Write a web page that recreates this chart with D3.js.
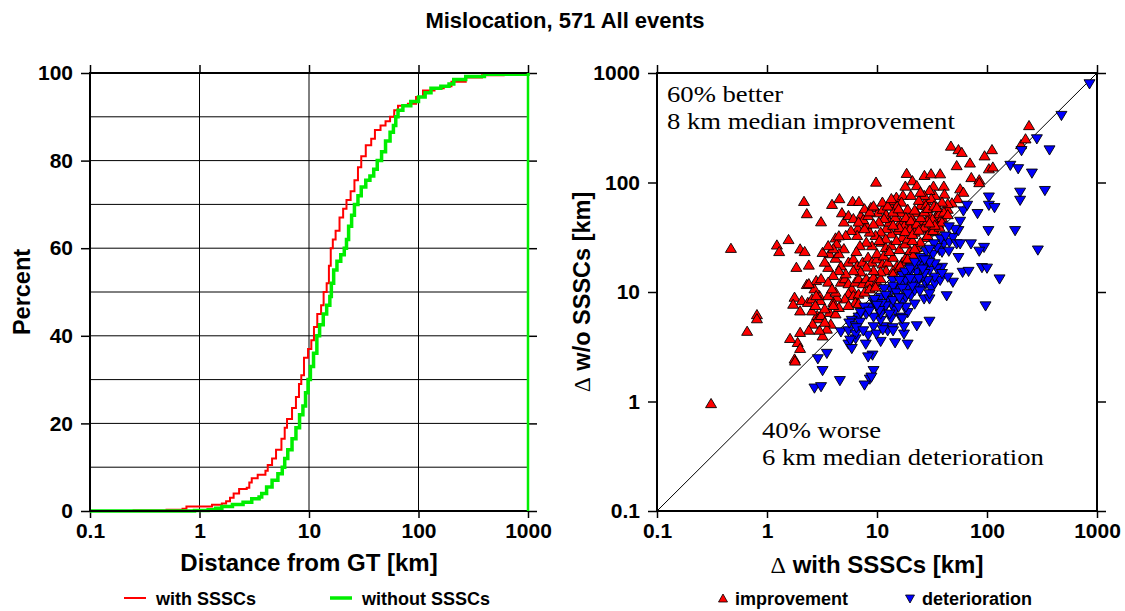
<!DOCTYPE html>
<html><head><meta charset="utf-8">
<script src="https://cdn.jsdelivr.net/npm/d3@7"></script>
<style>body{margin:0;background:#fff}svg{display:block}</style>
</head><body>
<svg id="c" width="1125" height="611"></svg>
<script>
// ---------- data ----------
const titleText = "Mislocation, 571 All events";
const logTicks = [0.1, 1, 10, 100, 1000];
const logTickLabels = ["0.1", "1", "10", "100", "1000"];
const pctTicks = [0, 20, 40, 60, 80, 100];
const pctGrid = [10, 20, 30, 40, 50, 60, 70, 80, 90];
const decadeGrid = [1, 10, 100];
const seriesNames = ["with SSSCs", "without SSSCs"];
const symbolNames = ["improvement", "deterioration"];
const noteBetter = ["60% better", "8 km median improvement"];
const noteWorse = ["40% worse", "6 km median deterioration"];

// cumulative distributions: [distance km, percent]
const cdfWith = [[0.1,0],[0.25,0.1],[0.5,0.3],[0.7,0.5],[0.76,1.0],[1.1,1.0],[1.3,1.4],[1.6,1.7],[1.75,2.2],[1.9,3.0],[2.05,4.0],[2.3,5.0],[2.7,5.3],[2.85,6.5],[3.0,7.5],[3.4,8.3],[4.0,9.2],[4.2,10.5],[4.6,12],[5.0,14],[5.6,16.5],[6.0,19],[6.3,21],[7.0,23.5],[7.6,26],[8.1,29],[8.5,31],[9.0,35],[9.8,37],[10.5,39],[11.1,42],[11.9,45],[12.9,47],[13.6,50],[14.5,52],[15.2,56],[15.8,60],[16.5,62],[17.5,64],[19,67],[20.5,69],[22,71],[24,73],[26,75.5],[28,78.5],[30,81],[33,83.5],[37,85],[40,87],[45,88],[50,89],[55,90],[60,91.5],[65,92.5],[80,93],[95,94.5],[110,96],[140,96.5],[170,97],[200,98],[270,99],[380,99.5],[600,99.8],[1000,100]];
const cdfWithout = [[0.1,0],[0.9,0.1],[1.2,0.3],[1.4,0.6],[1.6,1.0],[2.0,1.5],[2.5,2.0],[3.0,2.8],[3.5,3.2],[3.7,4.0],[4.1,5.5],[4.6,7.0],[5.2,8.5],[5.7,10],[6.0,12],[6.4,14],[7.0,16.5],[7.6,19],[8.2,22],[8.8,24],[9.3,27],[9.8,30],[10.3,33],[11.0,36],[11.8,40],[12.5,42.5],[13.5,45],[14.5,47],[15.5,49],[16,52],[16.8,55],[18,57],[19.5,58.5],[21,60],[22,62],[23,65],[24.5,67.5],[26,70],[28,72],[30,74],[33,75.5],[36,76.5],[39,78],[42,80],[46,82],[50,84.5],[55,86.5],[59,88],[62,90],[65,91.5],[72,92.5],[85,93.5],[100,94.5],[115,95.5],[130,96.5],[160,97],[190,97.5],[210,98.5],[270,99.2],[400,99.7],[1000,100]];

// scatter: [with SSSCs, w/o SSSCs] km
const improvement = [[0.31,0.94],[0.47,24.6],[0.66,4.3],[0.81,6.1],[0.81,5.6],[1.23,26.4],[1.29,23],[1.57,29.6],[2.0,24.3],[2.2,23],[2.17,66],[2.3,51],[3.1,43],[1.85,16.5],[2.4,17.3],[2.3,11.5],[2.8,12.5],[3.1,13],[1.78,8.8],[1.73,7.6],[2.07,8.2],[2.35,7.9],[2.0,6.6],[3.0,9.1],[3.05,8.2],[2.86,6.0],[2.9,5.6],[3.6,16.5],[3.7,22],[4.2,30.6],[4.3,27],[4.2,20],[3.9,62],[4.55,70],[4.8,52],[6.0,66],[6.85,66],[8.8,58],[7.1,49],[6.7,37.5],[8.0,40],[7.5,45],[9.8,99],[10.2,52],[11.3,56],[12.1,50],[13.3,60],[14.2,67],[15.0,72],[17.2,75],[18.1,91],[18.6,119],[21,102],[27,114],[31,118],[37.5,118],[32.6,91],[40.5,91],[41,77],[47,211],[55,196],[59,185],[53,140],[70,148],[72,109],[85,104],[85,98],[95,172],[111,196],[104,131],[113,136],[204,218],[224,246],[241,325],[57,86],[61,80],[54,70],[48,64],[44,56],[37,55],[35,49],[30,50],[28,67],[25,61],[23,52],[20,49],[19,56],[16.7,65],[15.2,60],[16.4,52],[18.7,41],[22,42],[26,42],[25,37],[31,37],[36,41],[39,47],[34,35],[28,31],
[4.7,12.1],[5.1,13],[5.5,11.7],[5.9,10.5],[6.35,12.1],[6.8,13],[7.4,11.7],[8.0,13],[8.6,12.1],[9.3,13.4],[10,12.1],[10.8,13],[5.5,9.5],[6.1,9.1],[6.8,9.4],[7.7,9.8],[5.1,8.5],[4.3,8.8],[4.0,7.9],[3.7,6.4],[4.2,6.2],[4.5,7.1],[3.8,5.0],[3.5,4.5],[3.2,3.9],[3.0,4.4],[2.6,5.0],[2.4,4.4],[2.0,4.2],[1.9,3.4],[1.62,3.7],[1.78,2.4],[1.8,2.3],[2.0,3.0],[2.56,8.5],[3.6,9.1],[4.0,7.4],[4.2,9.8],[4.7,17],[5.5,18.4],[6.1,19.7],[6.6,17],[7.4,18.4],[8.3,20.4],[9.0,18.4],[10,19.7],[11.2,17.7],[12.5,18.4],[14,20.4],[15.2,17],[17,18.4],[18.3,20.4],[12.1,15.4],[10.8,15],[9.3,15.4],[8,16.6],[7.1,15],[6.1,15.4],[5.2,14.4],[4.5,15.4],[4.0,13.9],[3.6,12.1],[3.9,10.5],[14,15.4],[15.7,16],[8.6,10.5],[9.7,10.9],[6.35,7.9],[5.5,7.4],[6.8,7.7],[2.56,6.6],[2.75,7.4],[3.1,6.0],[3.35,6.9],[3.35,5.2],[20,23.5],[21.3,21.2],[23,25],[17,31],[15.2,35.8],[13.5,33.4],[12.1,37.2],[10.8,34.6],[9.7,32.3],[8.6,34.6],[7.7,37.2],[6.6,32.3],[5.8,35.8],[5.2,32.3],[5.0,24.4],[4.5,22],[4.0,24.4],[16.3,42.8],[17.7,39.7],[20,37.2],[22,34.6],[18.3,47],[20.3,44],[23,41],[26.8,38.4],[28.8,44],[32,45.7],[37,51],[40.5,52.7],[44,63],[39,65],[33.5,75],[30,83],[31.1,70],[26.8,75],[24,67.5],[20.3,75],[23,92],[24.8,80],[27.8,60.5],[13,42.8],[11.6,46],[10.4,42.8],[9.3,41],[8.3,49],[14.6,47],[14,52.7],[15.7,56.5],[24.8,28],[28.8,32.3],[32.3,35.8],[37,38.4],[39,42.8],[33.5,40],[22,24.4],[19,19.7],[16.3,17],[14,14.4],[2.7,10.5],[2.8,9.1],[2.4,11.7],[3.35,18.4],[3.2,22.6],[3.6,26],[4.5,32],[5.0,42.8],[5.5,49],[6.1,46],[6.8,42.8],[7.7,56.5],[8.6,53],[9.3,60],[11.2,65],[12.5,60],[13.5,70],
[11,28],[12,25],[13.5,26],[15,29],[16,24],[18,27],[19,30],[21,29],[10,22],[11.5,21],[13,23],[9,26],[8,28],[7,26],[6.5,23],[16,38],[18,35],[21,33],[24,36],[14,40],[12,30],[10.5,29],[25,47],[22,55],[27,53],[29,57],[33,60],[35,58],[30,42],[44,50]];

const deterioration = [[855,811],[475,417],[284,255],[370,202],[206,199],[163,146],[192,136],[256,124],[336,86],[200,83],[200,70],[104,75],[104,63],[117,60],[82,53],[103,37],[180,37],[290,24.6],[71.5,28],[94,26],[85,24],[55,21],[60,15.4],[68,15.7],[90,17],[100,16.8],[130,13.4],[97,7.6],[49,12.5],[43,9.4],[30,5.5],[23,5.0],[19,3.4],[14.6,3.5],[17.6,4.2],[10.8,3.6],[12.5,4.5],[9.3,1.95],[8.6,1.63],[7.7,1.44],[9.1,2.7],[8.3,2.6],[7.9,3.4],[4.6,1.58],[2.7,1.35],[3.1,1.39],[3.2,1.95],[3.5,2.8],[2.9,2.5],[5.5,3.4],[5.9,3.1],[6.4,3.8],[4.7,4.4],[5.5,4.5],[6.4,4.2],[8.3,4.1],[9.3,4.9],[11.6,4.9],[13.9,4.8],[17.6,4.9],[16.3,6.0],[13.4,5.8],[10.8,5.6],[9.3,6.0],[8.0,6.4],[6.8,6.0],[5.9,5.6],[5.6,5.3],[6.4,5.0],[11.6,7.1],[14.6,6.9],[19,6.6],[13.5,7.9],[17,8.2],[10,7.4],[8.6,7.4],[7.7,7.4],[7.1,6.6],[9.3,8.3],[10.8,9.1],[12.5,8.8],[15.7,9.1],[18.3,9.1],[20.3,9.4],[22,10.5],[24.8,10.9],[27.8,12.1],[31.1,10.9],[33.5,12.1],[37.5,13],[33.5,13.9],[28.8,13],[25.9,13.9],[23,12.1],[19,11.3],[17,12.1],[15.2,10.9],[13.5,10.5],[11.6,10.9],[39,17.1],[35,16.6],[30,16.0],[26.8,17.1],[23,15.5],[19.8,15],[18.3,13],[24.8,18.4],[28.8,20.4],[32.3,22.6],[37,24.4],[39,23.5],[33.5,18.4],[40.5,28],[45.4,29],[49,32],[55,37],[57,45],[51,38],[61,56],[66,63],[45,24],[53,28],[57,28],[23,18.4],[20.3,17],[44,13.9],[39,15],[13.9,13],[17,14.4],[21.3,13],[9.7,7.9],[10.8,6.4],[18.3,7.4],[22,7.9],[15.7,7.4],[26.8,8.8],[30,8.8],
[12,9.5],[14,11.5],[16,13],[18,15.5],[20,16.5],[22,19],[25,21],[28,24],[15,10],[17,11],[19,9.8],[21,11.5],[24,13.5],[27,15],[12,7.6],[14,8.5],[11,8],[9.5,8.7],[8.5,6.8],[10.5,6.9],[13,6.4],[16,9],[26,16.5],[30,19],[35,26],[38,31],[42,33],[45,40],[33,28],[30,25],[27,20],[7,5.4],[6.5,4.8],[7.5,4.5],[10,7.7],[20,13.5],[30,9.8],[24.5,10.4],[17,5.8],[5.7,3.7],[8.9,1.7],[9.9,4.2],[11.3,4.6],[14,4.5]];

// ---------- drawing ----------
const svg = d3.select("#c");
const SANS = "'Liberation Sans', Arial, Helvetica, sans-serif";
const SERIF = "'Liberation Serif', 'Times New Roman', serif";

svg.append("text").attr("x", 565).attr("y", 28).attr("text-anchor", "middle")
  .style("font-family", SANS).style("font-weight", "bold").style("font-size", "22px").text(titleText);

const fmt = d => logTickLabels[logTicks.indexOf(d)];

function styleAxis(g, showText) {
  g.select(".domain").remove();
  g.selectAll(".tick line").attr("stroke", "#000").attr("stroke-width", 1.5);
  g.selectAll(".tick text").style("font-family", SANS).style("font-weight", "bold")
    .style("font-size", "21px").attr("fill", "#000");
  if (!showText) g.selectAll(".tick text").remove();
}

// ----- left panel -----
const xL = d3.scaleLog().domain([0.1, 1000]).range([90, 528]);
const yL = d3.scaleLinear().domain([0, 100]).range([511, 73]);
const gL = svg.append("g");

gL.selectAll("line.hg").data(pctGrid).join("line")
  .attr("x1", xL(0.1)).attr("x2", xL(1000)).attr("y1", d => yL(d)).attr("y2", d => yL(d))
  .attr("stroke", "#000").attr("stroke-width", 1);
gL.selectAll("line.vg").data(decadeGrid).join("line")
  .attr("x1", d => xL(d)).attr("x2", d => xL(d)).attr("y1", yL(0)).attr("y2", yL(100))
  .attr("stroke", "#000").attr("stroke-width", 1);

gL.append("g").attr("transform", `translate(0,${yL(0)})`)
  .call(d3.axisBottom(xL).tickValues(logTicks).tickFormat(fmt).tickSize(7).tickPadding(5))
  .call(g => styleAxis(g, true));
gL.append("g").attr("transform", `translate(0,${yL(100)})`)
  .call(d3.axisTop(xL).tickValues(logTicks).tickSize(8))
  .call(g => styleAxis(g, false));
gL.append("g").attr("transform", `translate(${xL(0.1)},0)`)
  .call(d3.axisLeft(yL).tickValues(pctTicks).tickSize(9).tickPadding(8))
  .call(g => styleAxis(g, true));
gL.append("g").attr("transform", `translate(${xL(1000)},0)`)
  .call(d3.axisRight(yL).tickValues(pctTicks).tickSize(9))
  .call(g => styleAxis(g, false));

const lineL = d3.line().x(d => xL(d[0])).y(d => yL(d[1])).curve(d3.curveStepAfter);
gL.append("path").datum(cdfWith).attr("d", lineL).attr("fill", "none")
  .attr("stroke", "#ff0000").attr("stroke-width", 2);
gL.append("path").datum(cdfWithout).attr("d", lineL).attr("fill", "none")
  .attr("stroke", "#00ee00").attr("stroke-width", 3.5);

gL.append("rect").attr("x", xL(0.1)).attr("y", yL(100)).attr("width", xL(1000) - xL(0.1))
  .attr("height", yL(0) - yL(100)).attr("fill", "none").attr("stroke", "#000").attr("stroke-width", 2);
// closing vertical of the green curve at 1000 km
gL.append("line").attr("x1", xL(1000)).attr("x2", xL(1000)).attr("y1", yL(0)).attr("y2", yL(100))
  .attr("stroke", "#00ee00").attr("stroke-width", 2.5);

gL.append("text").attr("x", 309).attr("y", 571).attr("text-anchor", "middle")
  .style("font-family", SANS).style("font-weight", "bold").style("font-size", "24px").text("Distance from GT [km]");
gL.append("text").attr("transform", "translate(30,292) rotate(-90)").attr("text-anchor", "middle")
  .style("font-family", SANS).style("font-weight", "bold").style("font-size", "23.5px").text("Percent");

// legend left
const legL = [{n: seriesNames[0], c: "#ff0000", w: 2, x: 124}, {n: seriesNames[1], c: "#00ee00", w: 3.5, x: 330}];
legL.forEach(d => {
  svg.append("line").attr("x1", d.x).attr("x2", d.x + 22).attr("y1", 598).attr("y2", 598)
    .attr("stroke", d.c).attr("stroke-width", d.w);
  svg.append("text").attr("x", d.x + 32).attr("y", 605)
    .style("font-family", SANS).style("font-weight", "bold").style("font-size", "18px").text(d.n);
});

// ----- right panel -----
const xR = d3.scaleLog().domain([0.1, 1000]).range([657, 1097]);
const yR = d3.scaleLog().domain([0.1, 1000]).range([511, 73]);
const gR = svg.append("g");

gR.append("g").attr("transform", `translate(0,${yR(0.1)})`)
  .call(d3.axisBottom(xR).tickValues(logTicks).tickFormat(fmt).tickSize(7).tickPadding(5))
  .call(g => styleAxis(g, true));
gR.append("g").attr("transform", `translate(0,${yR(1000)})`)
  .call(d3.axisTop(xR).tickValues(logTicks).tickSize(8))
  .call(g => styleAxis(g, false));
gR.append("g").attr("transform", `translate(${xR(0.1)},0)`)
  .call(d3.axisLeft(yR).tickValues(logTicks).tickFormat(fmt).tickSize(9).tickPadding(8))
  .call(g => styleAxis(g, true));
gR.append("g").attr("transform", `translate(${xR(1000)},0)`)
  .call(d3.axisRight(yR).tickValues(logTicks).tickSize(9))
  .call(g => styleAxis(g, false));

gR.append("line").attr("x1", xR(0.1)).attr("y1", yR(0.1)).attr("x2", xR(1000)).attr("y2", yR(1000))
  .attr("stroke", "#000").attr("stroke-width", 1);

const upTri = "M0,-6L5.5,3.2L-5.5,3.2Z";
const downTri = "M0,6L5.5,-3.2L-5.5,-3.2Z";
gR.append("g").selectAll("path").data(improvement).join("path")
  .attr("d", upTri).attr("transform", d => `translate(${xR(d[0])},${yR(d[1])})`)
  .attr("fill", "#ff0000").attr("stroke", "#000").attr("stroke-width", 0.9);
gR.append("g").selectAll("path").data(deterioration).join("path")
  .attr("d", downTri).attr("transform", d => `translate(${xR(d[0])},${yR(d[1])})`)
  .attr("fill", "#0000ff").attr("stroke", "#000").attr("stroke-width", 0.9);

gR.append("rect").attr("x", xR(0.1)).attr("y", yR(1000)).attr("width", xR(1000) - xR(0.1))
  .attr("height", yR(0.1) - yR(1000)).attr("fill", "none").attr("stroke", "#000").attr("stroke-width", 2);

// annotations: serif, glyphs slightly widened as in the reference
function note(txt, x, y) {
  const t = gR.append("text").attr("x", x).attr("y", y).text(txt)
    .style("font-family", SERIF).style("font-size", "24px");
  const w = t.node().getComputedTextLength();
  t.attr("textLength", w * 1.11).attr("lengthAdjust", "spacingAndGlyphs");
}
note(noteBetter[0], 667, 102);
note(noteBetter[1], 667, 129);
note(noteWorse[0], 762, 438);
note(noteWorse[1], 762, 465);

const xt = gR.append("text").attr("x", 877).attr("y", 573).attr("text-anchor", "middle")
  .style("font-family", SANS).style("font-weight", "bold").style("font-size", "24px");
xt.append("tspan").style("font-family", SERIF).style("font-weight", "normal").text("\u0394");
xt.append("tspan").text(" with SSSCs [km]");
const yt = gR.append("text").attr("transform", "translate(590,292) rotate(-90)").attr("text-anchor", "middle")
  .style("font-family", SANS).style("font-weight", "bold").style("font-size", "23.5px");
yt.append("tspan").style("font-family", SERIF).style("font-weight", "normal").text("\u0394");
yt.append("tspan").text(" w/o SSSCs [km]");

// legend right
const legR = [{n: symbolNames[0], c: "#ff0000", p: "M0,-5L4.5,3L-4.5,3Z", x: 723, y: 599},
              {n: symbolNames[1], c: "#0000ff", p: "M0,5L4.5,-3L-4.5,-3Z", x: 910, y: 598}];
legR.forEach(d => {
  svg.append("path").attr("d", d.p).attr("transform", `translate(${d.x},${d.y})`)
    .attr("fill", d.c).attr("stroke", "#000").attr("stroke-width", 0.8);
  svg.append("text").attr("x", d.x + 12).attr("y", 605)
    .style("font-family", SANS).style("font-weight", "bold").style("font-size", "18px").text(d.n);
});
</script>
</body></html>
